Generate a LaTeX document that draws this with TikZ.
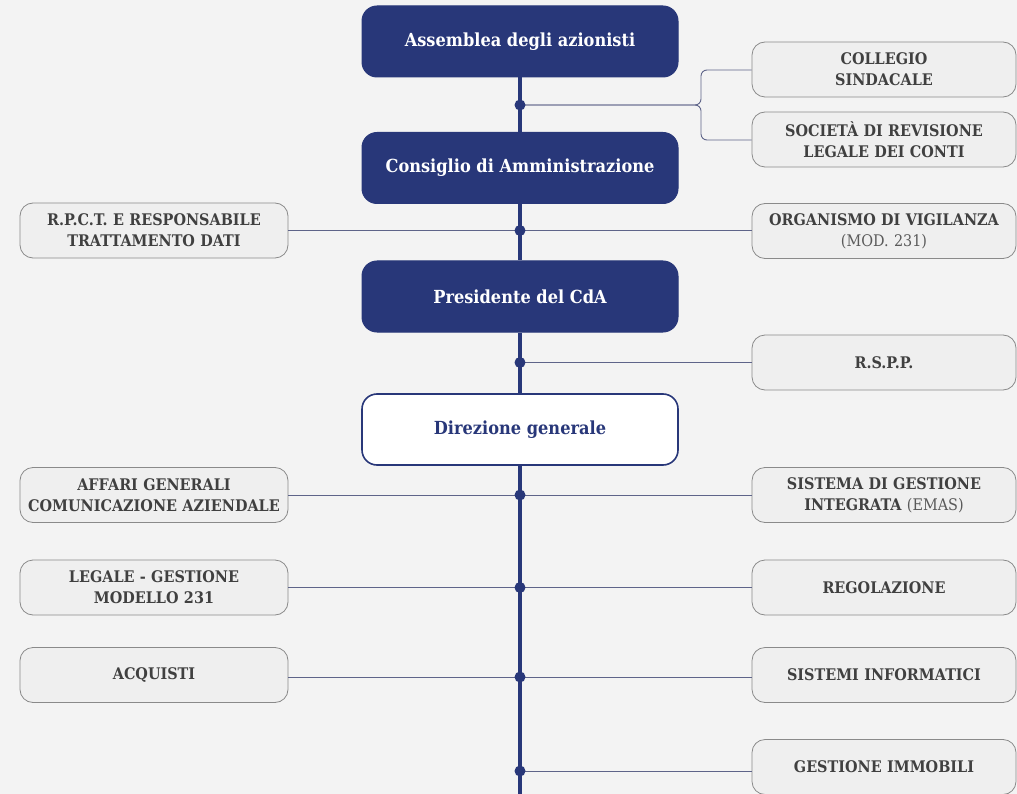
\documentclass[tikz,border=0pt]{standalone}
\usepackage{fontspec}
\setmainfont[FakeStretch=0.9]{DejaVu Serif}
\begin{document}
\begin{tikzpicture}[x=1pt,y=-1pt,
  mainbox/.style={rectangle,rounded corners=15,fill=navy,draw=navy,line width=1pt,
     minimum width=316pt,minimum height=71pt,text=white,
     font=\fontsize{18}{22}\selectfont\bfseries,inner sep=0pt},
  dirbox/.style={mainbox,fill=white,text=navy,line width=1.6pt},
  graybox/.style={rectangle,rounded corners=13,fill=boxfill,draw=boxline,line width=0.8pt,
     minimum height=55pt,text=txt,align=center,
     font=\fontsize{16}{21}\selectfont\bfseries,inner sep=0pt},
  rbox/.style={graybox,minimum width=264pt,text width=262pt},
  lbox/.style={graybox,minimum width=268pt,text width=266pt},
  spine/.style={draw=navy,line width=4pt},
  conn/.style={draw=connc,line width=0.9pt},
  dot/.style={circle,fill=navy,inner sep=0pt,minimum size=11pt}]
\definecolor{bgc}{HTML}{F3F3F3}
\definecolor{navy}{HTML}{283779}
\definecolor{boxfill}{HTML}{EFEFEF}
\definecolor{boxline}{HTML}{8A8A8A}
\definecolor{txt}{HTML}{404040}
\definecolor{sub}{HTML}{5A5A5A}
\definecolor{connc}{HTML}{5E6489}
\fill[bgc] (0,0) rectangle (1017,794);
\useasboundingbox (0,0) rectangle (1017,794);

% main column
\node[mainbox] (ass) at (520,41.5) {Assemblea degli azionisti};
\node[mainbox] (cda) at (520,168) {Consiglio di Amministrazione};
\node[mainbox] (pres) at (520,296.5) {Presidente del CdA};
\node[dirbox] (dir) at (520,429.5) {Direzione generale};
\coordinate (bottom) at (520,796);

% side boxes
\node[rbox] (coll) at (884,69.5) {COLLEGIO\\SINDACALE};
\node[rbox] (soc) at (884,139.5) {SOCIETÀ DI REVISIONE\\LEGALE DEI CONTI};
\node[rbox] (odv) at (884,231) {ORGANISMO DI VIGILANZA\\{\mdseries\color{sub}(MOD. 231)}};
\node[lbox] (rpct) at (154,230.5) {R.P.C.T. E RESPONSABILE\\TRATTAMENTO DATI};
\node[rbox] (rspp) at (884,362.5) {R.S.P.P.};
\node[lbox] (aff) at (154,495) {AFFARI GENERALI\\COMUNICAZIONE AZIENDALE};
\node[rbox] (sgi) at (884,495) {SISTEMA DI GESTIONE\\INTEGRATA {\mdseries\color{sub}(EMAS)}};
\node[lbox] (leg) at (154,587.5) {LEGALE - GESTIONE\\MODELLO 231};
\node[rbox] (reg) at (884,587.5) {REGOLAZIONE};
\node[lbox] (acq) at (154,675) {ACQUISTI};
\node[rbox] (sinf) at (884,675) {SISTEMI INFORMATICI};
\node[rbox] (imm) at (884,767) {GESTIONE IMMOBILI};

% spine
\draw[spine] (ass.south) -- (cda.north);
\draw[spine] (cda.south) -- (pres.north);
\draw[spine] (pres.south) -- (dir.north);
\draw[spine] (dir.south) -- (bottom);

% junctions
\coordinate (j1) at (520,105);
\coordinate (j2) at (520,230.5);
\coordinate (j3) at (520,362.5);
\coordinate (j4) at (520,495);
\coordinate (j5) at (520,587.5);
\coordinate (j6) at (520,677);
\coordinate (j7) at (520,771);

% connectors
\draw[conn,rounded corners=6] (j1) -- (701,105) -- (701,70) -- (701,70 -| coll.west);
\draw[conn,rounded corners=6] (j1) -- (701,105) -- (701,140) -- (701,140 -| soc.west);
\draw[conn] (rpct.east) -- (j2);
\draw[conn] (j2) -- (j2 -| odv.west);
\draw[conn] (j3) -- (rspp.west);
\draw[conn] (aff.east) -- (j4);
\draw[conn] (j4) -- (sgi.west);
\draw[conn] (leg.east) -- (j5);
\draw[conn] (j5) -- (j5 -| reg.west);
\draw[conn] (j6 -| acq.east) -- (j6);
\draw[conn] (j6) -- (j6 -| sinf.west);
\draw[conn] (j7) -- (j7 -| imm.west);

\foreach \j in {j1,j2,j3,j4,j5,j6,j7} \node[dot] at (\j) {};
\end{tikzpicture}
\end{document}
